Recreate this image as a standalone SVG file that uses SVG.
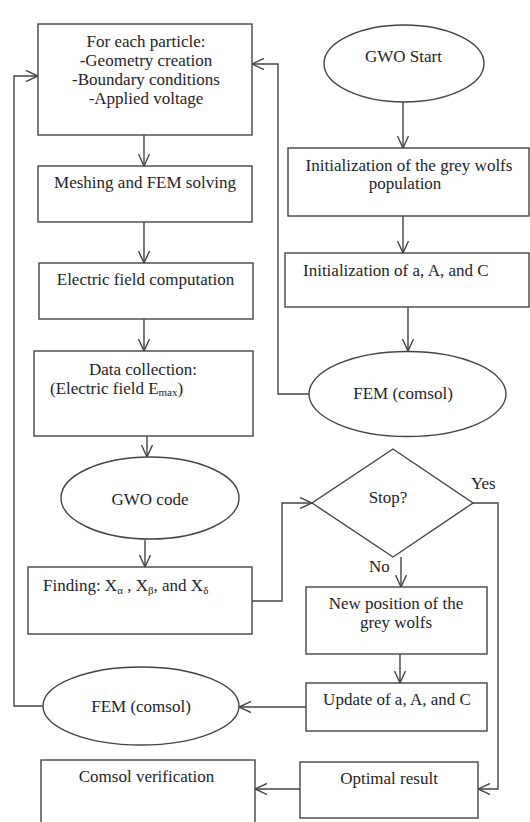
<svg xmlns="http://www.w3.org/2000/svg" width="530" height="822" viewBox="0 0 530 822">
<defs>
<style>
.n{fill:#ffffff;stroke:#444444;stroke-width:1.4}
.t{font-family:"Liberation Serif","Times New Roman",serif;font-size:17px;fill:#1e1e28}
.m{text-anchor:middle}
.c{fill:none;stroke:#444444;stroke-width:1.4}
.s{font-size:11px}
</style>
<marker id="ah" viewBox="0 0 12 12" refX="12" refY="6" markerWidth="12" markerHeight="12" markerUnits="userSpaceOnUse" orient="auto">
<path d="M0,0.5 L12,6 L0,11.5" fill="none" stroke="#444444" stroke-width="1.4"/>
</marker>
</defs>
<rect width="530" height="822" fill="#ffffff"/>
<g id="connectors">
<path class="c" d="M144,135 V166" marker-end="url(#ah)"/>
<path class="c" d="M144,222 V263" marker-end="url(#ah)"/>
<path class="c" d="M144,319 V351" marker-end="url(#ah)"/>
<path class="c" d="M147,436 V457" marker-end="url(#ah)"/>
<path class="c" d="M145,540 V567" marker-end="url(#ah)"/>
<path class="c" d="M252,601 H282 V503 H312" marker-end="url(#ah)"/>
<path class="c" d="M401,557 V587" marker-end="url(#ah)"/>
<path class="c" d="M400,654 V683" marker-end="url(#ah)"/>
<path class="c" d="M306,707 H239" marker-end="url(#ah)"/>
<path class="c" d="M43,706 H14 V76 H38" marker-end="url(#ah)"/>
<path class="c" d="M473,503 H498 V789 H478" marker-end="url(#ah)"/>
<path class="c" d="M300,789 H255" marker-end="url(#ah)"/>
<path class="c" d="M403,102 V148" marker-end="url(#ah)"/>
<path class="c" d="M403,216 V253" marker-end="url(#ah)"/>
<path class="c" d="M408,307 V351" marker-end="url(#ah)"/>
<path class="c" d="M309,394 H278 V64 H252" marker-end="url(#ah)"/>
</g>
<g id="particle">
<rect class="n" x="38" y="24" width="214" height="111"/>
<text class="t m" x="146" y="47">For each particle:</text>
<text class="t m" x="146" y="66">-Geometry creation</text>
<text class="t m" x="146" y="85">-Boundary conditions</text>
<text class="t m" x="146" y="104">-Applied voltage</text>
</g>
<g id="meshing">
<rect class="n" x="38" y="166" width="214" height="56"/>
<text class="t m" x="145" y="188">Meshing and FEM solving</text>
</g>
<g id="efield">
<rect class="n" x="39" y="263" width="214" height="56"/>
<text class="t m" x="145.5" y="285">Electric field computation</text>
</g>
<g id="datacollection">
<rect class="n" x="34" y="351" width="219" height="85"/>
<text class="t m" x="143" y="375">Data collection:</text>
<text class="t" x="50" y="394">(Electric field E<tspan class="s" dy="2">max</tspan><tspan dy="-2">)</tspan></text>
</g>
<g id="gwocode">
<ellipse class="n" cx="150" cy="498" rx="89" ry="41"/>
<text class="t m" x="150" y="505">GWO code</text>
</g>
<g id="finding">
<rect class="n" x="28" y="567" width="224" height="67"/>
<text class="t" x="43" y="591">Finding: X<tspan class="s" dy="3">α</tspan><tspan dy="-3"> , X</tspan><tspan class="s" dy="3">β</tspan><tspan dy="-3">, and X</tspan><tspan class="s" dy="3">δ</tspan></text>
</g>
<g id="fembottom">
<ellipse class="n" cx="141" cy="706" rx="98" ry="39"/>
<text class="t m" x="141" y="712">FEM (comsol)</text>
</g>
<g id="comsolverification">
<rect class="n" x="41" y="760" width="214" height="80"/>
<text class="t m" x="146.5" y="782">Comsol verification</text>
</g>
<g id="gwostart">
<ellipse class="n" cx="404" cy="63.5" rx="80" ry="38.5"/>
<text class="t m" x="403.5" y="62">GWO Start</text>
</g>
<g id="initwolves">
<rect class="n" x="288" y="148" width="241" height="68"/>
<text class="t m" x="409" y="171">Initialization of the grey wolfs</text>
<text class="t m" x="405" y="189">population</text>
</g>
<g id="initaac">
<rect class="n" x="285" y="253" width="244" height="54"/>
<text class="t" x="303" y="276">Initialization of a, A, and C</text>
</g>
<g id="femtop">
<ellipse class="n" cx="407.5" cy="394" rx="98.5" ry="42.5"/>
<text class="t m" x="403" y="399">FEM (comsol)</text>
</g>
<g id="stop">
<polygon class="n" points="393,449 473,503 393,557 312,503"/>
<text class="t m" x="388" y="503">Stop?</text>
<text class="t" x="471" y="489">Yes</text>
<text class="t" x="369" y="572">No</text>
</g>
<g id="newposition">
<rect class="n" x="306" y="587" width="181" height="67"/>
<text class="t m" x="396" y="609">New position of the</text>
<text class="t m" x="396" y="628">grey wolfs</text>
</g>
<g id="update">
<rect class="n" x="306" y="683" width="181" height="48"/>
<text class="t m" x="397" y="705">Update of a, A, and C</text>
</g>
<g id="optimal">
<rect class="n" x="300" y="762" width="178" height="56"/>
<text class="t m" x="389" y="784">Optimal result</text>
</g>
</svg>
